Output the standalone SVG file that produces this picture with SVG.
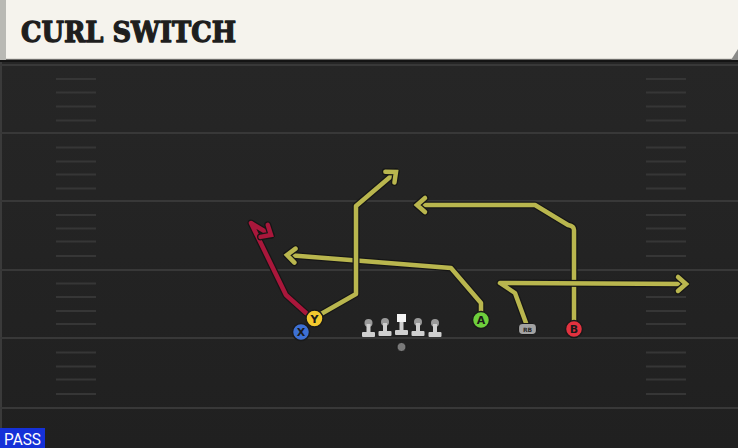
<svg xmlns="http://www.w3.org/2000/svg" width="738" height="448" viewBox="0 0 738 448">
<defs>
<style>
.yard{stroke:#383838;stroke-width:2;fill:none}
.hash{stroke:#363636;stroke-width:2;fill:none}
.out{fill:none;stroke:#161616;stroke-width:7;stroke-linejoin:round;stroke-linecap:round}
.rt{fill:none;stroke:#b9b64e;stroke-width:4.5;stroke-linejoin:round;stroke-linecap:round}
.rtred{fill:none;stroke:#a9173b;stroke-width:4.5;stroke-linejoin:round;stroke-linecap:round}
.pl{stroke:#1a1a1a;stroke-width:1.5}
.lbl{font-family:"DejaVu Sans","Liberation Sans",sans-serif;font-weight:bold;font-size:11px;fill:#1a1a1a;text-anchor:middle}
.head{fill:#9a9a9a}
.body{fill:#cfcfcf}
</style>
<marker id="arrY" markerUnits="userSpaceOnUse" viewBox="-14 -12 18 24" markerWidth="18" markerHeight="24" refX="0" refY="0" orient="auto">
<path d="M-8,-7 L0,0 L-8,7" fill="none" stroke="#161616" stroke-width="7" stroke-linecap="round" stroke-linejoin="miter"/>
<path d="M-8,-7 L0,0 L-8,7" fill="none" stroke="#b9b64e" stroke-width="4.5" stroke-linecap="round" stroke-linejoin="miter"/>
</marker>
<marker id="arrR" markerUnits="userSpaceOnUse" viewBox="-14 -12 18 24" markerWidth="18" markerHeight="24" refX="0" refY="0" orient="auto">
<path d="M-8,-7 L0,0 L-8,7" fill="none" stroke="#161616" stroke-width="7" stroke-linecap="round" stroke-linejoin="miter"/>
<path d="M-8,-7 L0,0 L-8,7" fill="none" stroke="#a9173b" stroke-width="4.5" stroke-linecap="round" stroke-linejoin="miter"/>
</marker>
<linearGradient id="fieldG" x1="0" y1="0" x2="0" y2="1">
<stop offset="0" stop-color="#272727"/>
<stop offset="1" stop-color="#202020"/>
</linearGradient>
</defs>

<g id="field">
<rect x="0" y="0" width="738" height="448" fill="url(#fieldG)"/>
<line x1="1" y1="60" x2="1" y2="448" stroke="#3a3a3a" stroke-width="2"/>
<line class="yard" x1="0" y1="65" x2="738" y2="65"/>
<line class="yard" x1="0" y1="133" x2="738" y2="133"/>
<line class="yard" x1="0" y1="201" x2="738" y2="201"/>
<line class="yard" x1="0" y1="270" x2="738" y2="270"/>
<line class="yard" x1="0" y1="338" x2="738" y2="338"/>
<line class="yard" x1="0" y1="408" x2="738" y2="408"/>
<path class="hash" d="M56,79H96M56,92.5H96M56,106.5H96M56,120.5H96M56,147.5H96M56,161.5H96M56,174.5H96M56,188.5H96M56,215H96M56,228.5H96M56,241.5H96M56,256H96M56,283.5H96M56,297H96M56,311H96M56,324H96M56,352.5H96M56,366.5H96M56,379.5H96M56,394H96"/>
<path class="hash" d="M646,79H686M646,92.5H686M646,106.5H686M646,120.5H686M646,147.5H686M646,161.5H686M646,174.5H686M646,188.5H686M646,215H686M646,228.5H686M646,241.5H686M646,256H686M646,283.5H686M646,297H686M646,311H686M646,324H686M646,352.5H686M646,366.5H686M646,379.5H686M646,394H686"/>
</g>

<g id="header">
<rect x="0" y="58" width="738" height="4" fill="#141414"/>
<rect x="0" y="0" width="738" height="59" fill="#f5f3ed"/>
<rect x="0" y="0" width="6" height="60" fill="#b9b9b4"/>
<line x1="6" y1="59" x2="732" y2="59" stroke="#c9c7c1" stroke-width="1"/>
<path d="M738,49 L738,60 L731,60 Z" fill="#8a8a88"/>
<text x="21" y="42" font-family="DejaVu Serif, Liberation Serif, serif" font-weight="bold" font-size="28" fill="#1e1e1e" stroke="#1e1e1e" stroke-width="1.3" stroke-linejoin="round" textLength="215" lengthAdjust="spacingAndGlyphs">CURL SWITCH</text>
</g>

<g id="connectors">
<path class="out" d="M574,321 L574,230 Q574,226 568,225 L535,205 L417,205"/>
<path class="rt" d="M574,321 L574,230 Q574,226 568,225 L535,205 L417,205" marker-end="url(#arrY)"/>
<path class="out" d="M526,323 L515,293 L500,283 L686,284"/>
<path class="rt" d="M526,323 L515,293 L500,283 L686,284" marker-end="url(#arrY)"/>
<path class="out" d="M481,313 L481,303 L451,268 L287,255"/>
<path class="rt" d="M481,313 L481,303 L451,268 L287,255" marker-end="url(#arrY)"/>
<path class="out" d="M314,318 L356,294 L356,206 L396,172"/>
<path class="rt" d="M314,318 L356,294 L356,206 L396,172" marker-end="url(#arrY)"/>
<path class="out" d="M306,313 L286,295 L251,223 L271,235"/>
<path class="rtred" d="M306,313 L286,295 L251,223 L271,235" marker-end="url(#arrR)"/>
</g>

<g id="line-ball">
<circle cx="401.5" cy="347" r="4.5" fill="#7a7a7a" stroke="#1a1a1a" stroke-width="1"/>
</g>
<g id="lineman-1">
<circle class="head" cx="368.5" cy="323" r="4"/>
<rect class="body" x="366.5" y="324" width="4" height="9"/>
<rect class="body" x="362" y="332" width="13" height="5" rx="1"/>
</g>
<g id="lineman-2">
<circle class="head" cx="385" cy="322" r="4"/>
<rect class="body" x="383" y="323" width="4" height="9"/>
<rect class="body" x="378.5" y="331" width="13" height="5" rx="1"/>
</g>
<g id="center">
<rect x="397" y="314" width="9" height="8" fill="#f4f4f4"/>
<rect class="body" x="399.5" y="322" width="4" height="9"/>
<rect class="body" x="395" y="330" width="13" height="5" rx="1"/>
</g>
<g id="lineman-4">
<circle class="head" cx="418" cy="322" r="4"/>
<rect class="body" x="416" y="323" width="4" height="9"/>
<rect class="body" x="411.5" y="331" width="13" height="5" rx="1"/>
</g>
<g id="lineman-5">
<circle class="head" cx="435" cy="323" r="4"/>
<rect class="body" x="433" y="324" width="4" height="9"/>
<rect class="body" x="428.5" y="332" width="13" height="5" rx="1"/>
</g>

<g id="player-X">
<circle class="pl" cx="301" cy="332" r="8.5" fill="#3d70d4"/>
<text class="lbl" x="301" y="336">X</text>
</g>
<g id="player-Y">
<circle class="pl" cx="314.5" cy="318.5" r="8.5" fill="#f3c92f"/>
<text class="lbl" x="314.5" y="322.5">Y</text>
</g>
<g id="player-A">
<circle class="pl" cx="481" cy="320" r="8.5" fill="#6ecf3c"/>
<text class="lbl" x="481" y="324">A</text>
</g>
<g id="player-RB">
<rect x="518.5" y="323.5" width="18" height="11" rx="4" fill="#a3a3a3" stroke="#1a1a1a" stroke-width="1.2"/>
<text x="527.5" y="331.5" font-family="DejaVu Sans, Liberation Sans, sans-serif" font-weight="bold" font-size="6" fill="#2a2a2a" text-anchor="middle">RB</text>
</g>
<g id="player-B">
<circle class="pl" cx="574" cy="329" r="8.5" fill="#e2323f"/>
<text class="lbl" x="574" y="333">B</text>
</g>

<g id="pass-badge">
<rect x="0" y="428" width="45" height="20" fill="#1531d8"/>
<text x="4" y="445" font-family="Roboto, Liberation Sans, sans-serif" font-size="17" fill="#ffffff" textLength="37" lengthAdjust="spacingAndGlyphs">PASS</text>
</g>
</svg>
